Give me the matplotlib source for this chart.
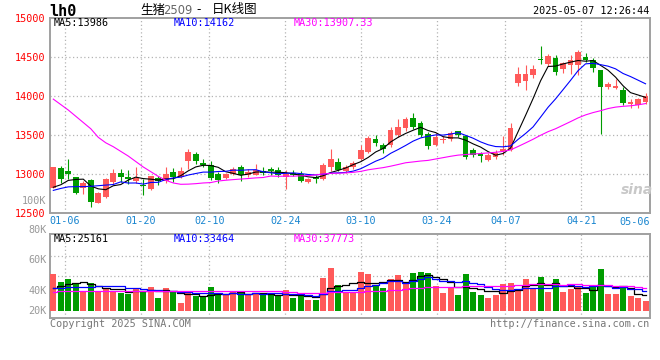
import os
os.environ.setdefault("MPLBACKEND", "Agg")
import matplotlib.pyplot as plt
import numpy as np
import pandas as pd

plt.rcParams["font.family"] = ["DejaVu Sans Mono"]

# daily OHLC of lh2509, 2025-01-02 .. 2025-05-07 (80 trading days)
opens = [12824, 13081, 13042, 12958, 12817, 12923, 12632, 12701, 12897, 13013,
         12958, 12914, 12863, 12804, 12953, 12906, 13026, 12962, 13171, 13256,
         13145, 13111, 13000, 12949, 13000, 13094, 12983, 12991, 13042, 13060,
         13051, 12966, 13009, 13000, 12897, 12966, 12940, 13094, 13154, 13042,
         13094, 13196, 13282, 13453, 13376, 13368, 13496, 13590, 13718, 13650,
         13513, 13376, 13436, 13453, 13547, 13487, 13308, 13248, 13180, 13222,
         13290, 13308, 14166, 14192, 14273, 14474, 14414, 14483, 14346, 14397,
         14402, 14500, 14466, 14329, 14111, 14111, 14077, 13906, 13880, 13923]
highs = [13090, 13106, 13192, 12965, 12906, 12932, 12765, 12955, 13068, 13060,
         13051, 13086, 12932, 12980, 12974, 13086, 13081, 13086, 13317, 13282,
         13196, 13171, 13026, 13010, 13086, 13115, 13060, 13128, 13094, 13094,
         13086, 13051, 13051, 13034, 12949, 12991, 13145, 13324, 13205, 13120,
         13171, 13376, 13487, 13504, 13402, 13599, 13709, 13735, 13778, 13684,
         13538, 13521, 13487, 13547, 13555, 13504, 13333, 13282, 13265, 13308,
         13487, 13658, 14376, 14402, 14402, 14645, 14534, 14530, 14440, 14530,
         14590, 14555, 14483, 14338, 14179, 14222, 14119, 13965, 13974, 14034]
lows = [12820, 12881, 12932, 12744, 12744, 12581, 12625, 12695, 12868, 12897,
        12871, 12888, 12731, 12800, 12859, 12888, 12893, 12950, 13064, 13124,
        13086, 12923, 12888, 12940, 12983, 12914, 12966, 12983, 12983, 12991,
        12966, 12812, 12974, 12897, 12888, 12888, 12923, 13034, 13034, 13009,
        13068, 13180, 13265, 13359, 13273, 13350, 13470, 13555, 13573, 13470,
        13324, 13359, 13402, 13427, 13478, 13196, 13214, 13154, 13163, 13196,
        13248, 13291, 14123, 14077, 14227, 14410, 14384, 14269, 14295, 14286,
        14273, 14440, 14312, 13513, 14094, 14085, 13888, 13846, 13846, 13897]
closes = [13086, 12940, 12996, 12760, 12888, 12645, 12760, 12940, 13013, 12966,
          12932, 12949, 12846, 12974, 12910, 13004, 12966, 13038, 13282, 13163,
          13111, 12949, 12923, 13000, 13060, 12983, 13030, 13051, 13017, 13034,
          12983, 13000, 12983, 12914, 12940, 12932, 13120, 13188, 13051, 13094,
          13145, 13308, 13462, 13402, 13317, 13564, 13607, 13709, 13607, 13504,
          13359, 13478, 13444, 13530, 13504, 13214, 13239, 13239, 13239, 13273,
          13324, 13590, 14286, 14286, 14350, 14461, 14509, 14312, 14423, 14466,
          14564, 14466, 14355, 14115, 14154, 14119, 13914, 13914, 13965, 14000]
# volume in thousand lots
volumes = [59.2, 46.4, 51.7, 43.7, 30.9, 45.3, 30.4, 36.3, 32.5, 29.3,
           27.2, 37.3, 32.0, 38.9, 21.3, 37.3, 32.5, 13.3, 29.3, 23.5,
           21.9, 38.9, 25.6, 27.2, 30.9, 28.8, 25.1, 29.3, 27.2, 25.1,
           24.5, 33.6, 20.8, 25.1, 17.6, 17.1, 53.3, 68.3, 41.6, 28.8,
           30.9, 62.4, 59.2, 41.6, 37.3, 51.2, 57.6, 44.8, 60.8, 62.4,
           60.8, 40.0, 28.8, 36.3, 25.6, 59.2, 30.4, 25.6, 21.3, 25.6,
           43.2, 44.8, 35.2, 51.2, 36.3, 54.4, 30.4, 51.2, 30.4, 35.2,
           38.4, 28.8, 38.4, 67.2, 27.2, 27.7, 37.3, 24.5, 21.3, 16.0]

# moving averages before enough days exist in the window (they use 2024 data)
ma5_head = [12830, 12862, 12918, 12930]
ma10_head = [12790, 12815, 12835, 12838, 12838, 12842, 12850, 12858, 12865]
ma30_head = [13960, 13890, 13820, 13740, 13660, 13580, 13470, 13400, 13350, 13290,
             13230, 13160, 13090, 13030, 12970, 12920, 12885, 12868, 12870, 12876,
             12885, 12890, 12910, 12920, 12928, 12935, 12942, 12950, 12955]
vma5_head = [36, 40, 43, 44]
vma10_head = [36.3, 37, 37.8, 38.3, 38.6, 39, 39.3, 39.6, 40]
vma30_head = [31.0, 31.3, 31.6, 31.9, 32.2, 32.4, 32.5, 32.5, 32.5, 32.6,
              32.6, 32.6, 32.6, 32.6, 32.6, 32.5, 32.4, 32.3, 32.2, 32.1,
              32.0, 32.0, 32.0, 32.1, 32.2, 32.3, 32.4, 32.5, 32.6]

tick_idx = [2, 12, 21, 31, 41, 51, 60, 70]
tick_labels = ["01-06", "01-20", "02-10", "02-24", "03-10", "03-24", "04-07", "04-21"]
last_label = "05-06"
price_ticks = [12500, 13000, 13500, 14000, 14500, 15000]

RED, GREEN, GRID, FRAME = "#ff5a5a", "#009c00", "#b4b4b4", "#a0a0a0"
W, H = 660, 360


def rect(l, t, r, b):
    return [l / W, 1 - b / H, (r - l) / W, (b - t) / H]


def moving(values, n, head):
    ma = pd.Series(values, dtype=float).rolling(n).mean().to_numpy()
    ma[:n - 1] = head
    return ma


def grid_axes(fig, box, ylim):
    g = fig.add_axes(rect(*box), zorder=1)
    g.set_xlim(0, 79); g.set_ylim(*ylim)
    for t in tick_idx:
        g.axvline(t, color=GRID, lw=0.9, ls=(0, (1, 2)))
    for s in g.spines.values():
        s.set_color(FRAME); s.set_linewidth(1.4)
    g.tick_params(length=0)
    return g


def top_axes(fig, box, ylim):
    a = fig.add_axes(rect(*box), zorder=2)
    a.patch.set_visible(False)
    a.set_xlim(-0.44, 79.53); a.set_ylim(*ylim)
    a.axis("off")
    return a


o, h, l, c = (np.array(v, float) for v in (opens, highs, lows, closes))
x = np.arange(len(c))
colors = np.where(c >= o, RED, GREEN)

fig = plt.figure(figsize=(6.6, 3.6), dpi=100)

# price panel
gx = grid_axes(fig, (50, 18, 649.5, 213), (12500, 15000))
for p in price_ticks[1:-1]:
    gx.axhline(p, color=GRID, lw=0.9, ls=(0, (1, 2)))
gx.set_yticks(price_ticks, [str(p) for p in price_ticks], color="#ff0000", fontsize=7.3)
gx.set_xticks(tick_idx, tick_labels, color="#1a86d0", fontsize=7.3)
gx.tick_params(axis="x", pad=2)
gx.tick_params(axis="y", pad=3)
gx.text(1.0, -0.046, last_label, transform=gx.transAxes, ha="right", va="center",
        color="#1a86d0", fontsize=7.3)

ax = top_axes(fig, (50, 18, 649.5, 213), (12500, 15000))
body_lo = np.minimum(o, c); body_h = np.abs(c - o)
pad = np.maximum(14 - body_h, 0) / 2
ax.vlines(x, l, h, colors=colors, lw=0.8)
ax.bar(x, body_h + 2 * pad, 0.76, body_lo - pad, color=colors, lw=0)
ax.plot(x, moving(closes, 5, ma5_head), color="black", lw=0.8)
ax.plot(x, moving(closes, 10, ma10_head), color="#0000ff", lw=0.8)
ax.plot(x, moving(closes, 30, ma30_head), color="#ff00ff", lw=0.8)

# volume panel
vlim = (-11.7, 122.7)
vg = grid_axes(fig, (50, 234.3, 649.5, 318.3), vlim)
for p in (56.5, 88.5):
    vg.axhline(p, color=GRID, lw=0.9, ls=(0, (1, 2)))
vg.set_xticks([]); vg.set_yticks([])
vx = top_axes(fig, (50, 234.3, 649.5, 318.3), vlim)
vx.bar(x, volumes, 0.8, color=colors, lw=0)
vx.plot(x, moving(volumes, 5, vma5_head), color="black", lw=0.9, drawstyle="steps-mid")
vx.plot(x, moving(volumes, 10, vma10_head), color="#0000ff", lw=0.9, drawstyle="steps-mid")
vx.plot(x, moving(volumes, 30, vma30_head), color="#ff00ff", lw=0.9, drawstyle="steps-mid")


def ftext(px, py, s, **kw):
    kw.setdefault("fontsize", 7.3)
    kw.setdefault("va", "center")
    return fig.text(px / W, 1 - py / H, s, **kw)


# headers and legends
ftext(49, 11, "lh0", fontsize=11, fontweight="bold")
cjk = ["Noto Sans CJK SC", "DejaVu Sans"]
ftext(140, 10, "生猪", family=cjk, fontsize=9)
ftext(163, 10.5, "2509", family="DejaVu Sans", fontsize=8.3, color="#666666")
ftext(196, 10, "-", family=cjk, fontsize=9)
ftext(212, 10, "日K线图", family=cjk, fontsize=9)
ftext(649, 11, "2025-05-07 12:26:44", ha="right")
ftext(54, 23.5, "MA5:13986", color="black")
ftext(174, 23.5, "MA10:14162", color="#0000ff")
ftext(294, 23.5, "MA30:13907.33", color="#ff00ff")
ftext(54, 239, "MA5:25161", color="black")
ftext(174, 239, "MA10:33464", color="#0000ff")
ftext(294, 239, "MA30:37773", color="#ff00ff")
for py, s in ((200.5, "100K"), (230.5, "80K"), (260, "60K"), (290.5, "40K"), (311, "20K")):
    ftext(46.5, py, s, ha="right", color="#999999")
ftext(50, 324, "Copyright 2025 SINA.COM", color="#777777")
ftext(649, 324, "http://finance.sina.com.cn", ha="right", color="#777777")
ftext(637, 190, "sina", ha="center", family="DejaVu Sans", fontsize=10,
      fontweight="bold", style="italic", color="#c8c8c8")

fig.savefig("out.png", dpi=100)
